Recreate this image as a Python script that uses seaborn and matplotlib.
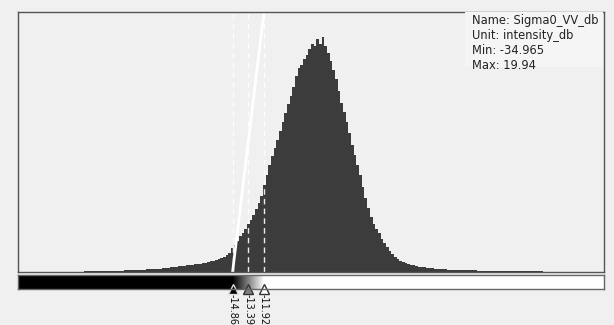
import numpy as np
import pandas as pd
import matplotlib
matplotlib.use("Agg")
import matplotlib.pyplot as plt
from matplotlib.colors import LinearSegmentedColormap
from matplotlib.patches import Rectangle
from matplotlib.transforms import blended_transform_factory
import seaborn as sns

# --- data ---
band_name = "Sigma0_VV_db"
band_unit = "intensity_db"
band_min = -34.965
band_max = 19.94

# histogram: 0.25 dB bins starting at -35 dB (one row per dB), relative heights
bin_width = 0.25
bin_start = -35.0
counts = [
    0, 0, 0, 0,                  # -35
    0, 0, 0, 0,                  # -34
    0, 0, 0, 0,                  # -33
    0, 0, 0, 0,                  # -32
    0.2, 0.2, 0.3, 0.3,          # -31
    0.3, 0.4, 0.4, 0.5,          # -30
    0.5, 0.6, 0.6, 0.7,          # -29
    0.8, 0.8, 0.9, 0.9,          # -28
    1.0, 1.0, 1.1, 1.2,          # -27
    1.2, 1.3, 1.4, 1.5,          # -26
    1.6, 1.7, 1.8, 1.9,          # -25
    2.0, 2.1, 2.3, 2.4,          # -24
    2.6, 2.7, 2.9, 3.1,          # -23
    3.3, 3.5, 3.8, 4.0,          # -22
    4.3, 4.6, 4.9, 5.2,          # -21
    5.6, 6.0, 6.3, 6.7,          # -20
    7.0, 7.4, 7.8, 8.2,          # -19
    8.6, 9.1, 9.6, 10.1,         # -18
    10.7, 11.4, 12.1, 13.0,      # -17
    14, 15.5, 17, 19.5,          # -16
    24, 27, 31, 36,              # -15
    40, 44, 49, 53,              # -14
    58, 64, 70, 77,              # -13
    88, 98, 108, 117,            # -12
    126, 134, 143, 152,          # -11
    161, 170, 178, 187,          # -10
    198, 207, 210, 216,          # -9
    220, 226, 231, 229,          # -8
    236, 231, 238, 229,          # -7
    222, 214, 205, 195,          # -6
    183, 171, 162, 152,          # -5
    141, 129, 119, 108,          # -4
    98, 86, 75, 65,              # -3
    56, 49, 44, 39,              # -2
    33, 29, 25, 21,              # -1
    18, 15, 13, 11,              # 0
    10, 9, 8, 7.2,               # 1
    6.6, 6.0, 5.5, 5.0,          # 2
    4.6, 4.2, 3.9, 3.6,          # 3
    3.4, 3.2, 3.0, 2.9,          # 4
    2.7, 2.5, 2.4, 2.3,          # 5
    2.2, 2.1, 2.0, 1.9,          # 6
    1.8, 1.7, 1.7, 1.6,          # 7
    1.5, 1.5, 1.4, 1.4,          # 8
    1.3, 1.3, 1.2, 1.2,          # 9
    1.1, 1.1, 1.0, 1.0,          # 10
    1.0, 0.9, 0.9, 0.9,          # 11
    0.8, 0.8, 0.8, 0.7,          # 12
    0.7, 0.7, 0.6, 0.6,          # 13
    0.6, 0.5, 0.5, 0.5,          # 14
    0.4, 0.4, 0.4, 0.4,          # 15
    0.3, 0.3, 0.3, 0.3,          # 16
    0.2, 0.2, 0.2, 0.1,          # 17
    0, 0, 0, 0,                  # 18
    0, 0, 0, 0,                  # 19
]

# colour slider positions (black / grey / white)
slider_values = [-14.86, -13.39, -11.92]
slider_labels = ["-14.86", "-13.39", "-11.92"]
slider_colors = ["#000000", "#808080", "#ffffff"]

n_bins = len(counts)
centers = bin_start + bin_width * (np.arange(n_bins) + 0.5)
df = pd.DataFrame({"db": centers, "count": counts})

bg = "#f0f0f0"
sns.set_style("white", rc={"axes.facecolor": bg, "figure.facecolor": bg,
                           "axes.edgecolor": "#555555"})
plt.rcParams["font.family"] = ["DejaVu Sans"]

fig = plt.figure(figsize=(6.14, 3.25), dpi=100)
ax = fig.add_axes([18 / 614, 1 - 272 / 325, 586 / 614, 260 / 325])
cax = fig.add_axes([18 / 614, 1 - 289 / 325, 586 / 614, 14 / 325])

sns.histplot(data=df, x="db", weights="count", binwidth=bin_width,
             binrange=(bin_start, bin_start + bin_width * n_bins),
             element="step", fill=True, color="#3c3c3c", alpha=1,
             linewidth=0, ax=ax)
ymax = max(counts) * 260 / 235
ax.set_xlim(band_min, band_max)
ax.set_ylim(0, ymax)
ax.set_xticks([])
ax.set_yticks([])
ax.set_xlabel("")
ax.set_ylabel("")
for s in ax.spines.values():
    s.set_linewidth(1)
    s.set_color("#555555")

# dashed slider lines and the white gradient line
for v in slider_values:
    ax.axvline(v, color="white", ls=(0, (4, 3)), lw=1.0, alpha=0.9)
ax.plot([slider_values[0], slider_values[-1]], [0, ymax], color="white", lw=2)

# info box
info = f"Name: {band_name}\nUnit: {band_unit}\nMin: {band_min}\nMax: {band_max}"
ax.add_patch(Rectangle((447 / 586, 205 / 260), 138 / 586, 55 / 260,
                       transform=ax.transAxes, fc="#f5f5f5", ec="none", zorder=3))
ax.text(454 / 586, 258 / 260, info, transform=ax.transAxes, ha="left", va="top",
        fontsize=8.3, color="#222222", linespacing=1.2, zorder=4)

# colour bar
cmap = LinearSegmentedColormap.from_list("g", slider_colors)
grad = np.linspace(band_min, band_max, 800)[None, :]
cax.imshow(grad, cmap=cmap, vmin=slider_values[0], vmax=slider_values[-1],
           aspect="auto", extent=[band_min, band_max, 0, 1])
cax.set_xlim(band_min, band_max)
cax.set_ylim(0, 1)
cax.set_xticks([])
cax.set_yticks([])
for s in cax.spines.values():
    s.set_linewidth(1)
    s.set_color("#666666")

tr = blended_transform_factory(cax.transData, cax.transAxes)
for v, lab, c in zip(slider_values, slider_labels, slider_colors):
    ec = "#dddddd" if c == "#000000" else "#333333"
    cax.plot([v], [0.0], marker="^", ms=7.5, mfc=c, mec=ec, mew=1,
             transform=tr, clip_on=False)
    cax.text(v, -0.38, lab, transform=tr, rotation=-90, ha="center", va="top",
             fontsize=7, color="#111111", clip_on=False)

fig.savefig("out.png", dpi=100, facecolor=bg)
